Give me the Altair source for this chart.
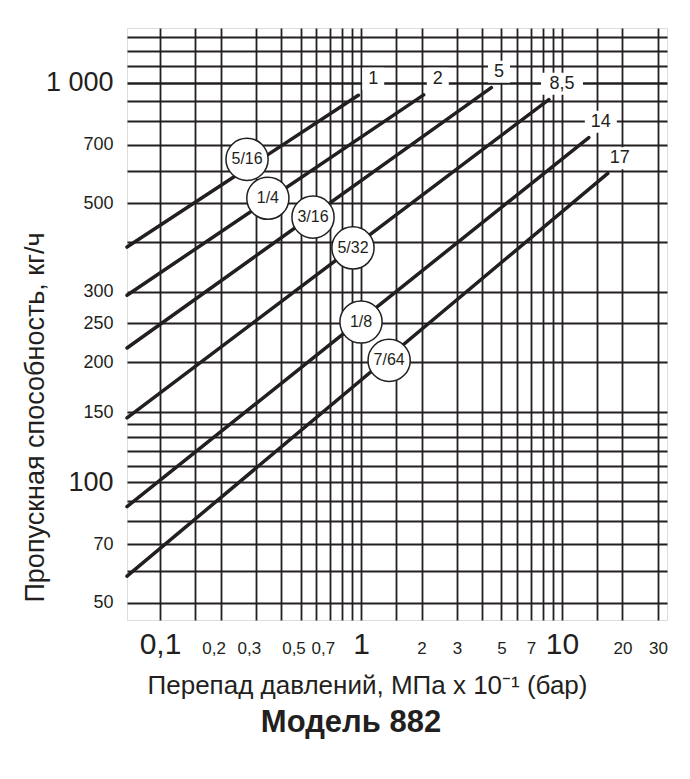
import altair as alt
import pandas as pd

# ---- data ----
max_dp = ["1", "2", "5", "8,5", "14", "17"]
orifice = ["5/16", "1/4", "3/16", "5/32", "1/8", "7/64"]
dp_start = [0.0685, 0.0685, 0.0685, 0.0685, 0.0685, 0.0685]
flow_start = [388, 294, 217, 145, 87, 58.3]
dp_end = [0.97, 2.05, 4.45, 8.6, 13.6, 16.9]
flow_end = [930, 932, 972, 907, 729, 593]
circle_dp = [0.271, 0.344, 0.577, 0.912, 1.0, 1.38]
circle_flow = [643, 514, 461, 386, 252, 202]
label_dp = [1.15, 2.41, 4.86, 10.0, 15.6, 19.4]
label_flow = [1023, 1023, 1065, 994, 799, 647]

x_grid = [0.1, 0.15, 0.2, 0.3, 0.4, 0.5, 0.6, 0.7, 0.8, 0.9, 1, 1.5, 2, 3, 4, 5,
          6, 7, 8, 9, 10, 15, 20, 30]
x_labels = [0.1, 0.2, 0.3, 0.5, 0.7, 1, 2, 3, 5, 7, 10, 20, 30]
x_big = [0.1, 1, 10]
x_shifted = [0.2, 0.3, 0.5, 0.7]
y_grid = [50, 60, 70, 80, 90, 100, 110, 120, 130, 140, 150, 200, 250, 300, 400,
          500, 600, 700, 800, 900, 1000, 1100, 1200, 1300]
y_labels = [50, 70, 100, 150, 200, 250, 300, 500, 700, 1000]
y_big = [100, 1000]
x_domain = [0.0685, 33.3]
y_domain = [45.3, 1370]

INK = "#231f20"
NUM = "Liberation Sans, Arial, sans-serif"
SANS = "Liberation Sans, Arial, sans-serif"

# ---- tables ----
lines = pd.DataFrame({
    "series": max_dp * 2,
    "dp": dp_start + dp_end,
    "flow": flow_start + flow_end,
})
circles = pd.DataFrame({"lab": orifice, "dp": circle_dp, "flow": circle_flow})
tops = pd.DataFrame({"lab": max_dp, "dp": label_dp, "flow": label_flow})

xs = alt.Scale(type="log", domain=x_domain, nice=False)
ys = alt.Scale(type="log", domain=y_domain, nice=False)

x_axis = alt.Axis(
    values=x_grid, grid=True, gridColor=INK, gridOpacity=1, gridWidth=1.8,
    ticks=False, tickSize=0, domain=False,
    labelExpr=f"indexof({x_labels}, datum.value) >= 0 ? replace('' + datum.value, '.', ',') : ''",
    labelFontSize={"condition": {"test": f"indexof({x_big}, datum.value) >= 0", "value": 30}, "value": 17},
    labelOffset={"condition": {"test": f"indexof({x_shifted}, datum.value) >= 0", "value": -7}, "value": 0},
    labelFont=NUM, labelColor=INK, labelBaseline="alphabetic", labelPadding=33,
    labelOverlap=False, labelFlush=False,
    title="Перепад давлений, МПа х 10⁻¹ (бар)", titleFont=SANS, titleFontSize=26,
    titleFontWeight="normal", titleColor=INK, titleX=240, titleY=73,
    titleBaseline="alphabetic", titleAlign="center",
)
y_axis = alt.Axis(
    values=y_grid, grid=True, gridColor=INK, gridOpacity=1,
    gridWidth={"condition": {"test": "datum.value == 1000", "value": 2.5}, "value": 1.8},
    ticks=False, tickSize=0, domain=False,
    labelExpr=f"indexof({y_labels}, datum.value) >= 0 ? (datum.value == 1000 ? '1 000' : '' + datum.value) : ''",
    labelFontSize={"condition": {"test": f"indexof({y_big}, datum.value) >= 0", "value": 27}, "value": 18},
    labelFont=NUM, labelColor=INK, labelBaseline="middle", labelPadding=14,
    labelOverlap=False, labelFlush=False,
    title="Пропускная способность, кг/ч", titleFont=SANS, titleFontSize=27,
    titleFontWeight="normal", titleColor=INK, titleAngle=270, titleX=-84, titleY=389,
    titleBaseline="alphabetic", titleAlign="center",
)

base_lines = alt.Chart(lines).mark_line(color=INK, strokeWidth=3.5, strokeCap="round").encode(
    x=alt.X("dp:Q", scale=xs, axis=x_axis),
    y=alt.Y("flow:Q", scale=ys, axis=y_axis),
    detail="series:N",
)

boxes = alt.Chart(tops).transform_calculate(
    w="12 + 10 * length(datum.lab)",
).transform_calculate(
    shp="'M-1,-' + (22 / datum.w) + 'H1V' + (22 / datum.w) + 'H-1Z'",
    sz="datum.w * datum.w",
).mark_point(filled=True, fill="white", opacity=1, strokeWidth=0).encode(
    x=alt.X("dp:Q", scale=xs),
    y=alt.Y("flow:Q", scale=ys),
    shape=alt.Shape("shp:N", scale=None),
    size=alt.Size("sz:Q", scale=None),
)

top_text = alt.Chart(tops).mark_text(font=SANS, fontSize=18, color=INK).encode(
    x=alt.X("dp:Q", scale=xs),
    y=alt.Y("flow:Q", scale=ys),
    text="lab:N",
)

circ = alt.Chart(circles).mark_point(
    shape="circle", filled=True, fill="white", stroke=INK, strokeWidth=1.5,
    size=1780, opacity=1,
).encode(
    x=alt.X("dp:Q", scale=xs),
    y=alt.Y("flow:Q", scale=ys),
)

circ_text = alt.Chart(circles).mark_text(font=NUM, fontSize=16, color=INK).encode(
    x=alt.X("dp:Q", scale=xs),
    y=alt.Y("flow:Q", scale=ys),
    text="lab:N",
)

chart = alt.layer(boxes, base_lines, top_text, circ, circ_text).properties(
    width=540, height=592,
    padding={"left": 119, "top": 20, "right": 12, "bottom": 145},
    autosize="none",
    title=alt.TitleParams(
        "Модель 882", orient="bottom", anchor="middle", frame="group",
        font=SANS, fontSize=31, fontWeight="bold", color=INK, dx=-46, offset=10,
    ),
).configure_view(stroke=INK, strokeWidth=2.2).configure(background="white")

chart.save("out.html", embed_options={"renderer": "svg", "actions": False})
